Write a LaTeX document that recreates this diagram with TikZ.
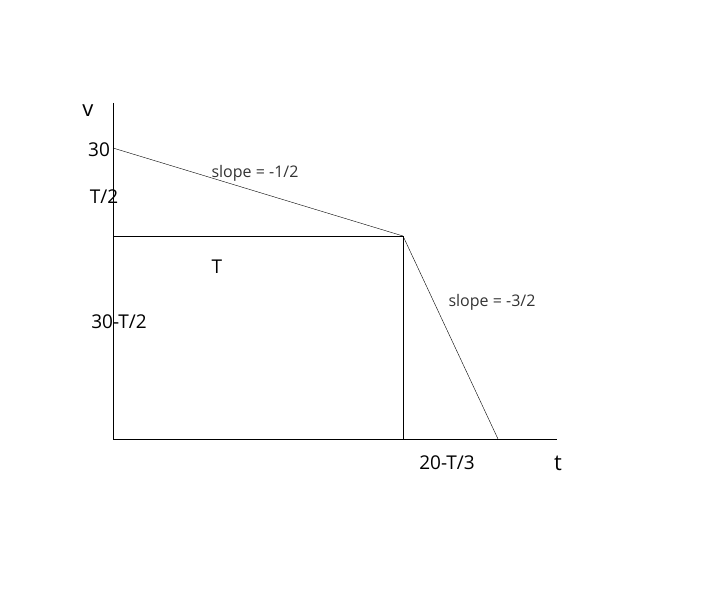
\documentclass[tikz,border=0pt]{standalone}
\usepackage{fontspec}
\setmainfont{Open Sans}
\usetikzlibrary{positioning}
\tikzset{lbl/.style={inner sep=0pt,font=\fontsize{19}{22}\selectfont},
  axl/.style={inner sep=0pt,font=\fontsize{22}{26}\selectfont},
  slp/.style={inner sep=0pt,font=\fontsize{16}{19}\selectfont,text=black!80}}
\begin{document}
\begin{tikzpicture}[x=1pt,y=-1pt]
\useasboundingbox (0,0) rectangle (710,599);
\coordinate (O) at (113,439);
\coordinate (Vtop) at (113,103);
\coordinate (Tend) at (557,439);
\coordinate (S) at (113,148);
\coordinate (M) at (113,236);
\coordinate (K) at (403,236);
\coordinate (Kb) at (403,439);
\coordinate (E) at (498,439);
\draw (Vtop) -- (O) -- (Tend);
\draw (S) -- (K) -- (E);
\draw (M) -- (K) -- (Kb);
\node[axl] (v) at (88,111) {v};
\node[lbl] (thirty) at (99,150) {30};
\node[lbl] (half) at (104,197) {T/2};
\node[lbl] (T) at (217,267) {T};
\node[lbl] (rest) at (119,322) {30-T/2};
\node[lbl] (tail) at (447,463) {20-T/3};
\node[axl] (t) at (558,463) {t};
\node[slp] (s1) at (255,173) {slope = -1/2};
\node[slp] (s2) at (492,302) {slope = -3/2};
\end{tikzpicture}
\end{document}
